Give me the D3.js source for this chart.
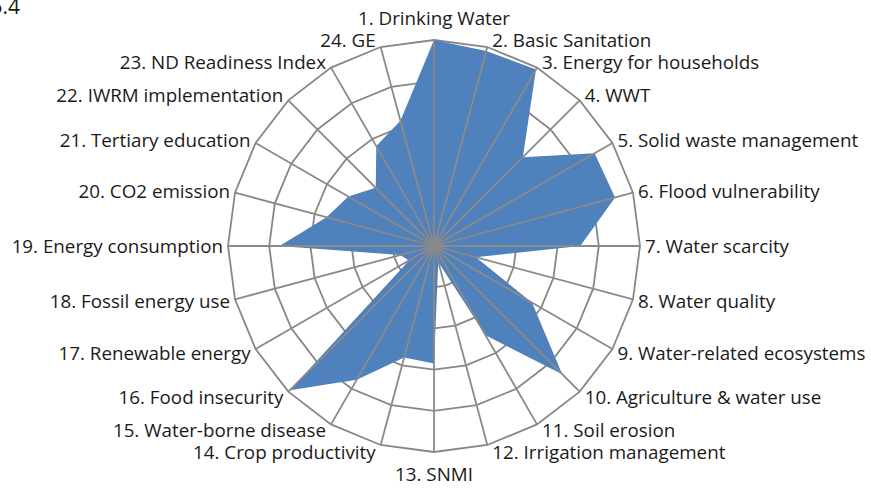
<!DOCTYPE html>
<html>
<head>
<meta charset="utf-8">
<script src="https://cdn.jsdelivr.net/npm/d3@7"></script>
<style>
  html, body { margin: 0; padding: 0; background: #fff; }
  svg { display: block; }
  text { font-family: "Open Sans", "Noto Sans", sans-serif; fill: #1a1a1a; }
</style>
</head>
<body>
<svg id="chart" width="871" height="488"></svg>
<script>
// Indicator names, one per spoke, clockwise from the top
const categories = [
  "1. Drinking Water", "2. Basic Sanitation", "3. Energy for households", "4. WWT",
  "5. Solid waste management", "6. Flood vulnerability", "7. Water scarcity",
  "8. Water quality", "9. Water-related ecosystems", "10. Agriculture & water use",
  "11. Soil erosion", "12. Irrigation management", "13. SNMI", "14. Crop productivity",
  "15. Water-borne disease", "16. Food insecurity", "17. Renewable energy",
  "18. Fossil energy use", "19. Energy consumption", "20. CO2 emission",
  "21. Tertiary education", "22. IWRM implementation", "23. ND Readiness Index", "24. GE"
];

// Normalised score for each indicator (0 = centre, 1 = outer ring)
const scores = [
  1.00, 0.98, 0.99, 0.61, 0.90, 0.91, 0.71, 0.21, 0.55, 0.88, 0.50, 0.08,
  0.57, 0.56, 0.75, 0.99, 0.14, 0.17, 0.75, 0.54, 0.48, 0.40, 0.56, 0.63
];

// Gridline levels
const ringLevels = [0.2, 0.4, 0.6, 0.8, 1.0];

const svg = d3.select("#chart");
const cx = 434, cy = 246, R = 206;

const r = d3.scaleLinear().domain([0, 1]).range([0, R]);
const angle = d3.scaleBand().domain(categories).range([0, 2 * Math.PI]).align(0).paddingInner(0).paddingOuter(0);
const ang = d => angle(d); // start of band = spoke angle

const pt = (a, rad) => [cx + rad * Math.sin(a), cy - rad * Math.cos(a)];

const g = svg.append("g");

// Polygonal rings
const ringLine = d3.line();
g.selectAll("path.ring").data(ringLevels).join("path")
  .attr("class", "ring")
  .attr("d", lv => ringLine(categories.map(c => pt(ang(c), r(lv)))) + "Z")
  .attr("fill", "none")
  .attr("stroke", "#878787")
  .attr("stroke-width", 1.8);

// Series area
g.append("path")
  .attr("d", ringLine(categories.map((c, i) => pt(ang(c), r(scores[i])))) + "Z")
  .attr("fill", "#4f81bd")
  .attr("stroke", "none");

// Spokes drawn over the area
g.selectAll("line.spoke").data(categories).join("line")
  .attr("class", "spoke")
  .attr("x1", cx).attr("y1", cy)
  .attr("x2", c => pt(ang(c), r(1))[0])
  .attr("y2", c => pt(ang(c), r(1))[1])
  .attr("stroke", "#8a8a8a")
  .attr("stroke-width", 1.8);

// Category labels
g.selectAll("text.lab").data(categories).join("text")
  .attr("class", "lab")
  .attr("font-size", 18.8)
  .each(function (c) {
    const a = ang(c);
    const s = Math.sin(a), co = Math.cos(a);
    const [ex, ey] = pt(a, r(1));
    let x = ex, y = ey, anchor;
    if (Math.abs(s) < 0.01) {
      anchor = "middle";
      y = ey - co * 22;
    } else {
      anchor = s > 0 ? "start" : "end";
      x = ex + (s > 0 ? 5 : -5);
      y = ey - co * 7;
    }
    d3.select(this)
      .attr("x", x).attr("y", y)
      .attr("text-anchor", anchor)
      .attr("dominant-baseline", "central")
      .text(c);
  });

// Figure number at the top-left corner
svg.append("text")
  .attr("x", 20).attr("y", 14)
  .attr("text-anchor", "end")
  .attr("font-size", 21)
  .text("5.4");
</script>
</body>
</html>
